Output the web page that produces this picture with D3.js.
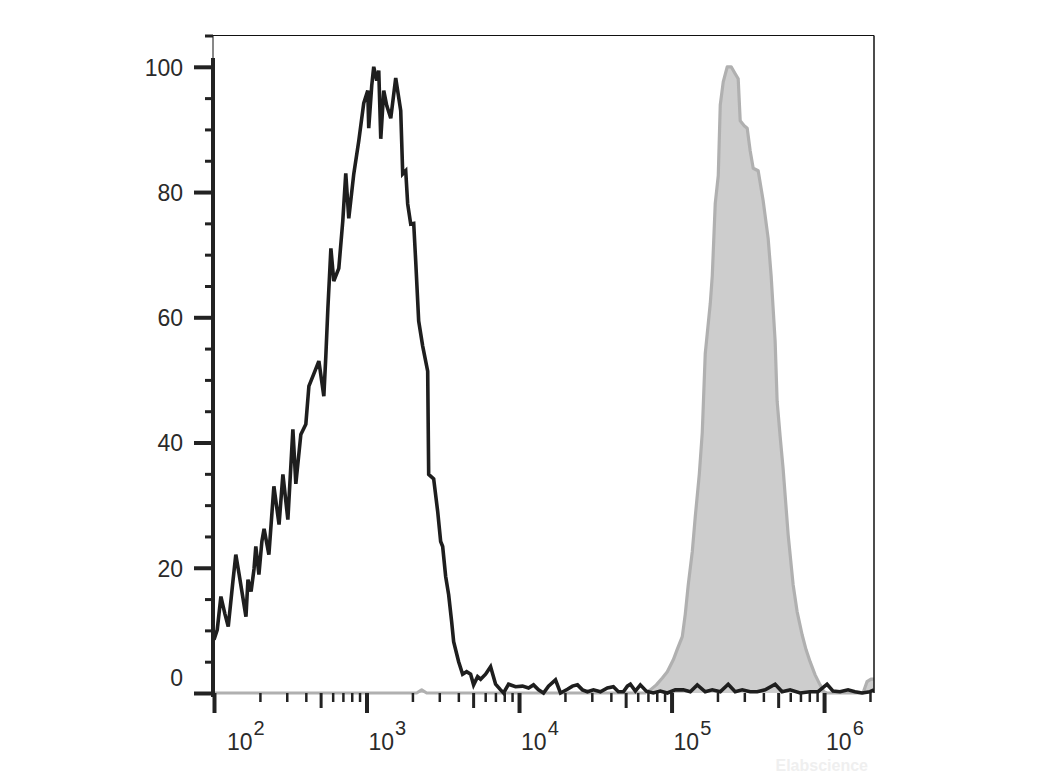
<!DOCTYPE html>
<html><head><meta charset="utf-8">
<script src="https://cdn.jsdelivr.net/npm/d3@7"></script>
<style>html,body{margin:0;padding:0;background:#fff;} svg{display:block;font-family:"Liberation Sans",Arial,sans-serif;}</style>
</head><body><svg id="chart" width="1040" height="780"></svg>
<script>
// ---- Data ----
// Control (black outline) histogram: fluorescence intensity and % of max
const controlIntensity = [100,105,111,118,124,133,139,146,162,167,175,183,188,197,206,213,229,247,267,283,305,329,344,371,400,419,452,487,525,541,558,584,610,658,699,731,765,825,890,959,1019,1034,1082,1115,1167,1203,1240,1297,1357,1442,1554,1676,1727,1807,1862,1949,2039,2101,2198,2335,2518,2556,2756,2928,3063,3157,3303,3456,3615,3726,4018,4267,4532,4814,5036,5350,5598,6035,6509,7020,7569,7917,8538,9486,10540,11540,12440,13420,14470,15600,17340,18700,20770,22400,24160,26050,28090,30740,34160,37960,41560,44810,48320,51320,53700,57900,62440,68340,75940,84390,93800,105800,119400,132700,147500,166300,184900,208600,235200,261400,290600,327700,364300,410900,477800,530900,598800,696500,809600,913300,1046000,1145000,1272000,1436000,1596000,1774000,2001000,2125000];
const controlCount = [8.5,10.1,15.4,12.6,10.6,17.8,22.1,19.0,12.2,18.1,16.2,19.8,23.4,18.9,24.2,26.2,22.1,33.0,26.9,34.9,27.7,42.1,33.4,41.3,42.9,49.0,51.0,53.0,47.4,53.8,61.4,71.0,65.8,67.8,75.4,83.0,75.8,82.9,88.2,94.2,96.2,90.2,97.0,100,97.8,99.4,88.5,96.2,93.8,91.8,98.2,93.0,82.9,83.4,78.1,74.9,75.0,69.0,59.4,55.4,51.4,34.9,34.2,29.0,24.2,23.4,18.6,15.7,11.4,8.2,5.0,3.0,3.4,3.0,1.3,2.6,2.2,3.0,4.2,1.4,0.5,0,1.4,1.0,1.1,0.8,1.3,0.5,0,1.1,2.1,0,0.6,1.1,1.3,0.5,0.2,0.5,0.2,0.8,1.0,0.2,0.2,1.1,1.4,0.3,1.3,0.3,0,0.3,0,0.5,0.5,0.2,1.3,0.2,0.5,0.2,1.4,0.2,0.5,0.2,0.2,0.5,1.4,0.2,0.5,0,0.2,0.2,1.4,0.3,0.2,0.5,0.2,0,0.2,0.5];
// Stained (grey filled) histogram
const stainedIntensity = [100,2133,2300,2480,67330,72600,79470,87000,93800,102700,109100,117600,123000,128700,136800,143100,152000,159000,166300,171400,179400,184900,193400,202400,208600,218200,231700,246100,261400,273500,281900,299500,313300,327700,343000,369800,398700,429900,449800,463500,477700,492300,515100,539000,581300,626800,665600,717800,762400,809700,873400,941500,996300,1046000,1800000,1912000,2031000,2125000];
const stainedCount = [0,0,0.5,0,0,0.5,1.3,2.4,3.4,5.3,7.0,9.0,12.6,17.3,22.6,28.2,34.9,41.6,54.2,57.4,62.2,66.6,78.2,82.6,93.9,97.6,100,100,98.9,98.1,91.4,90.6,90.2,86.6,83.8,83.4,78.6,72.6,66.6,61.4,56.2,46.6,41.0,35.8,25.3,17.3,13.0,9.3,6.9,5.0,2.9,1.3,0.2,0,0,1.8,2.2,2.2];
// Axis ticks
const yMajorTicks = [0,20,40,60,80,100];
const yMinorTicks = [5,10,15,25,30,35,45,50,55,65,70,75,85,90,95,105];
const xDecadeTicks = [1e2,1e3,1e4,1e5,1e6];
const xDecadeExponents = ["2","3","4","5","6"];
const xDomain = [100, 2125000];
const yDomain = [0, 105];
const watermark = "Elabscience";

// ---- Drawing ----
const svg = d3.select("#chart");
const L = 214, R = 874, T = 35.5, B = 693;
const x = d3.scaleLog().domain(xDomain).range([L, R]);
const y = d3.scaleLinear().domain(yDomain).range([B, T]);

svg.append("defs").append("clipPath").attr("id","plotclip")
  .append("rect").attr("x",212).attr("y",T).attr("width",R-212).attr("height",B-T+3);

const plot = svg.append("g").attr("clip-path","url(#plotclip)");

const stained = stainedIntensity.map((v,i)=>({v, c: stainedCount[i]}));
const control = controlIntensity.map((v,i)=>({v, c: controlCount[i]}));

plot.append("path").datum(stained)
  .attr("d", d3.area().x(d=>x(d.v)).y0(y(0)).y1(d=>y(d.c)))
  .attr("fill","#cdcdcd").attr("stroke","none");
plot.append("path").datum(stained)
  .attr("d", d3.line().x(d=>x(d.v)).y(d=>y(d.c)))
  .attr("fill","none").attr("stroke","#b0b0b0").attr("stroke-width",3.2).attr("stroke-linejoin","round");

plot.append("path").datum(control)
  .attr("d", d3.line().x(d=>x(d.v)).y(d=>y(d.c)))
  .attr("fill","none").attr("stroke","#1e1e1e").attr("stroke-width",3.6).attr("stroke-linejoin","miter").attr("stroke-miterlimit",3);

// frame (thin top and right)
svg.append("line").attr("x1",213).attr("x2",R).attr("y1",35.5).attr("y2",35.5).attr("stroke","#111").attr("stroke-width",1);
svg.append("line").attr("x1",R).attr("x2",R).attr("y1",35.5).attr("y2",B).attr("stroke","#111").attr("stroke-width",1.5);
svg.append("line").attr("x1",213).attr("x2",213).attr("y1",35.5).attr("y2",60).attr("stroke","#111").attr("stroke-width",1);

// Y axis
const yMinor = svg.append("g").attr("transform",`translate(${213},0)`)
  .call(d3.axisLeft(y).tickValues(yMinorTicks).tickSize(8).tickFormat(""));
yMinor.select(".domain").remove();
yMinor.selectAll(".tick line").attr("stroke","#222").attr("stroke-width",3);

const yMajor = svg.append("g").attr("transform",`translate(${213},0)`)
  .call(d3.axisLeft(y).tickValues(yMajorTicks).tickSize(19).tickPadding(11));
yMajor.select(".domain").remove();
yMajor.selectAll(".tick line").attr("stroke","#222").attr("stroke-width",4);
yMajor.selectAll(".tick text")
  .attr("font-size",23).attr("fill","#2a2a2a")
  .attr("font-family",'"Liberation Sans",Arial,sans-serif')
  .attr("dy", d => d === 0 ? "-0.0em" : "0.36em")
  .attr("transform", d => d === 0 ? "translate(0,-8)" : null);

// thick y axis line
svg.append("line").attr("x1",213).attr("x2",213).attr("y1",58).attr("y2",697)
  .attr("stroke","#222").attr("stroke-width",4);

// X axis
const allLogTicks = x.ticks(40).filter(v => v >= xDomain[0] && v <= xDomain[1]);
const isDecade = v => Math.abs(Math.log10(v) - Math.round(Math.log10(v))) < 1e-9;
const lead = v => Math.round(v / Math.pow(10, Math.floor(Math.log10(v) + 1e-9)));
const minorX = allLogTicks.filter(v => !isDecade(v) && lead(v) !== 5);
const midX = allLogTicks.filter(v => !isDecade(v) && lead(v) === 5);

const xg = svg.append("g").attr("transform",`translate(0,${B})`);
const xMinorG = xg.append("g").call(d3.axisBottom(x).tickValues(minorX).tickSize(9).tickFormat(""));
xMinorG.selectAll(".tick line").attr("stroke","#222").attr("stroke-width",2.5);
const xMidG = xg.append("g").call(d3.axisBottom(x).tickValues(midX).tickSize(15).tickFormat(""));
xMidG.selectAll(".tick line").attr("stroke","#222").attr("stroke-width",3);
const xMajG = xg.append("g").call(d3.axisBottom(x).tickValues(xDecadeTicks).tickSize(20).tickFormat(""));
xMajG.selectAll(".tick line").attr("stroke","#222").attr("stroke-width",4);
xg.selectAll(".domain").remove();

const xl = svg.append("g").selectAll("text").data(xDecadeTicks).join("text")
  .attr("x",(d,i)=> x(d) + (i === 0 ? 13 : 2))
  .attr("y", 750)
  .attr("font-size",23).attr("fill","#2a2a2a");
xl.append("tspan").text("10");
xl.append("tspan").attr("font-size",20).attr("dy",-15).attr("dx",1).text((d,i)=>xDecadeExponents[i]);

// watermark (faint), kept just below the 10^6 label
svg.append("text").attr("x",868).attr("y",771).attr("font-size",16).attr("font-weight","bold")
  .attr("text-anchor","end").attr("fill","#efefef").text(watermark);
</script>
</body></html>
